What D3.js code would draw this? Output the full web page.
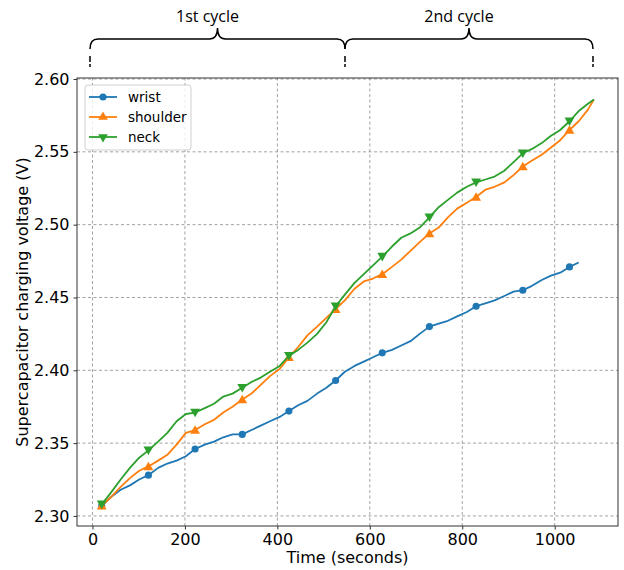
<!DOCTYPE html>
<html>
<head>
<meta charset="utf-8">
<script src="https://cdn.jsdelivr.net/npm/d3@7"></script>
<style>
  body { margin: 0; background: #fff; }
  text { font-family: "DejaVu Sans", sans-serif; fill: #000; }
</style>
</head>
<body>
<div id="chart"></div>
<script>
const width = 624;
const height = 570;

// time stamps (seconds), markers sit on every 5th sample
const times = [20, 40, 61, 81, 101, 121, 142, 162, 182, 202, 222, 243, 263, 283, 303, 324, 344, 364, 384, 405,
  425, 445, 465, 486, 506, 526, 546, 567, 587, 607, 627, 648, 668, 688, 708, 729, 749, 769, 789, 810,
  830, 850, 870, 891, 911, 931, 951, 972, 992, 1012, 1032, 1052, 1072, 1085];

const wrist = [2.307, 2.313, 2.318, 2.321, 2.325, 2.328, 2.333, 2.336, 2.338, 2.341, 2.346, 2.349, 2.351, 2.354, 2.356,
  2.356, 2.359, 2.362, 2.365, 2.368, 2.372, 2.376, 2.379, 2.384, 2.388, 2.393, 2.399, 2.403, 2.406, 2.409,
  2.412, 2.414, 2.417, 2.420, 2.425, 2.430, 2.432, 2.434, 2.437, 2.440, 2.444, 2.446, 2.448, 2.451, 2.454,
  2.455, 2.458, 2.462, 2.465, 2.467, 2.471, 2.474];

const shoulder = [2.307, 2.313, 2.320, 2.326, 2.331, 2.334, 2.338, 2.342, 2.349, 2.357, 2.359, 2.363, 2.366, 2.371, 2.375,
  2.380, 2.384, 2.390, 2.396, 2.401, 2.409, 2.416, 2.424, 2.430, 2.436, 2.442, 2.448, 2.456, 2.461, 2.463,
  2.466, 2.471, 2.476, 2.482, 2.488, 2.494, 2.498, 2.505, 2.511, 2.515, 2.519, 2.524, 2.526, 2.529, 2.534,
  2.540, 2.544, 2.548, 2.553, 2.558, 2.565, 2.571, 2.579, 2.586];

const neck = [2.308, 2.316, 2.325, 2.333, 2.340, 2.345, 2.351, 2.357, 2.365, 2.370, 2.371, 2.374, 2.377, 2.382, 2.384,
  2.388, 2.392, 2.395, 2.399, 2.403, 2.410, 2.414, 2.419, 2.425, 2.433, 2.444, 2.452, 2.460, 2.466, 2.472,
  2.478, 2.485, 2.491, 2.494, 2.498, 2.505, 2.512, 2.517, 2.522, 2.526, 2.529, 2.531, 2.533, 2.537, 2.543,
  2.549, 2.552, 2.556, 2.561, 2.565, 2.571, 2.578, 2.583, 2.586];

const seriesNames = ["wrist", "shoulder", "neck"];
const colors = ["#1f77b4", "#ff7f0e", "#2ca02c"];
const xTicks = [0, 200, 400, 600, 800, 1000];
const yTicks = [2.30, 2.35, 2.40, 2.45, 2.50, 2.55, 2.60];
const cycleLabels = ["1st cycle", "2nd cycle"];

const margin = { left: 77, right: 6, top: 78, bottom: 44 };

const svg = d3.select("#chart").append("svg")
  .attr("width", width)
  .attr("height", height);

const x = d3.scaleLinear().domain([-33.5, 1137]).range([margin.left, width - margin.right]);
const y = d3.scaleLinear().domain([2.2931, 2.6007]).range([height - margin.bottom, margin.top]);

// grid
const grid = svg.append("g").attr("stroke", "#8a8a8a").attr("stroke-width", 0.8).attr("stroke-dasharray", "3,2.5");
grid.selectAll(".gx").data(xTicks).enter().append("line")
  .attr("x1", d => x(d)).attr("x2", d => x(d))
  .attr("y1", y.range()[0]).attr("y2", y.range()[1]);
grid.selectAll(".gy").data(yTicks).enter().append("line")
  .attr("y1", d => y(d)).attr("y2", d => y(d))
  .attr("x1", x.range()[0]).attr("x2", x.range()[1]);

// axes
const xAxis = svg.append("g")
  .attr("transform", `translate(0,${y.range()[0]})`)
  .call(d3.axisBottom(x).tickValues(xTicks).tickSize(3.5).tickPadding(4).tickFormat(d3.format("d")));
const yAxis = svg.append("g")
  .attr("transform", `translate(${x.range()[0]},0)`)
  .call(d3.axisLeft(y).tickValues(yTicks).tickSize(3.5).tickPadding(4).tickFormat(d3.format(".2f")));
[xAxis, yAxis].forEach(a => {
  a.select(".domain").remove();
  a.selectAll("line").attr("stroke", "#333");
  a.selectAll("text").style("font-size", "16px").style("font-family", "DejaVu Sans");
});

// frame
svg.append("rect")
  .attr("x", x.range()[0]).attr("y", y.range()[1])
  .attr("width", x.range()[1] - x.range()[0])
  .attr("height", y.range()[0] - y.range()[1])
  .attr("fill", "none").attr("stroke", "#333").attr("stroke-width", 1);

// lines
const allSeries = [wrist, shoulder, neck];
const symbols = [d3.symbolCircle, d3.symbolTriangle, d3.symbolTriangle];
const rotations = [0, 0, 180];

allSeries.forEach((vals, i) => {
  const pts = vals.map((v, j) => ({ t: times[j], v: v, j: j }));
  svg.append("path")
    .datum(pts)
    .attr("fill", "none")
    .attr("stroke", colors[i])
    .attr("stroke-width", 1.8)
    .attr("stroke-linejoin", "round")
    .attr("d", d3.line().x(d => x(d.t)).y(d => y(d.v)));

  svg.selectAll(".m" + i)
    .data(pts.filter(d => d.j % 5 === 0))
    .enter().append("path")
    .attr("d", d3.symbol().type(symbols[i]).size(i === 0 ? 40 : 42))
    .attr("fill", colors[i])
    .attr("transform", d => `translate(${x(d.t)},${y(d.v) + (i === 1 ? 1 : i === 2 ? -1 : 0)}) rotate(${rotations[i]})`);
});

// legend
const legend = svg.append("g").attr("transform", "translate(85,85)");
legend.append("rect")
  .attr("width", 106).attr("height", 65).attr("rx", 3)
  .attr("fill", "#fff").attr("fill-opacity", 0.8)
  .attr("stroke", "#d0d0d0");
seriesNames.forEach((name, i) => {
  const ly = 12 + i * 20;
  legend.append("line")
    .attr("x1", 4).attr("x2", 32).attr("y1", ly).attr("y2", ly)
    .attr("stroke", colors[i]).attr("stroke-width", 1.8);
  legend.append("path")
    .attr("d", d3.symbol().type(symbols[i]).size(40))
    .attr("fill", colors[i])
    .attr("transform", `translate(18,${ly}) rotate(${rotations[i]})`);
  legend.append("text")
    .attr("x", 43).attr("y", ly + 5)
    .style("font-size", "13.5px")
    .text(name);
});

// axis titles
svg.append("text")
  .attr("x", (x.range()[0] + x.range()[1]) / 2).attr("y", 563)
  .attr("text-anchor", "middle")
  .style("font-size", "16px")
  .text("Time (seconds)");
svg.append("text")
  .attr("transform", `translate(28,${(y.range()[0] + y.range()[1]) / 2}) rotate(-90)`)
  .attr("text-anchor", "middle")
  .style("font-size", "16px")
  .text("Supercapacitor charging voltage (V)");

// cycle braces on top
function bracePath(x1, x2, yEnd, yMid, yTip) {
  const m = (x1 + x2) / 2;
  const r = 8;
  return `M${x1},${yEnd} Q${x1},${yMid} ${x1 + r},${yMid} L${m - r},${yMid} Q${m},${yMid} ${m},${yTip}` +
    ` Q${m},${yMid} ${m + r},${yMid} L${x2 - r},${yMid} Q${x2},${yMid} ${x2},${yEnd}`;
}
const braceEdges = [90, 345, 593];
cycleLabels.forEach((lab, i) => {
  const x1 = braceEdges[i], x2 = braceEdges[i + 1];
  svg.append("path")
    .attr("d", bracePath(x1, x2, 49, 39, 28))
    .attr("fill", "none").attr("stroke", "#000").attr("stroke-width", 1.5);
  svg.append("text")
    .attr("x", (x1 + x2) / 2 - 10).attr("y", 22)
    .attr("text-anchor", "middle")
    .style("font-family", "Open Sans")
    .style("font-size", "16px")
    .text(lab);
});
svg.selectAll(".tickmark").data(braceEdges).enter().append("line")
  .attr("x1", d => d).attr("x2", d => d)
  .attr("y1", 56).attr("y2", 67)
  .attr("stroke", "#000").attr("stroke-width", 1.5)
  .attr("stroke-dasharray", "6,2");
</script>
</body>
</html>
